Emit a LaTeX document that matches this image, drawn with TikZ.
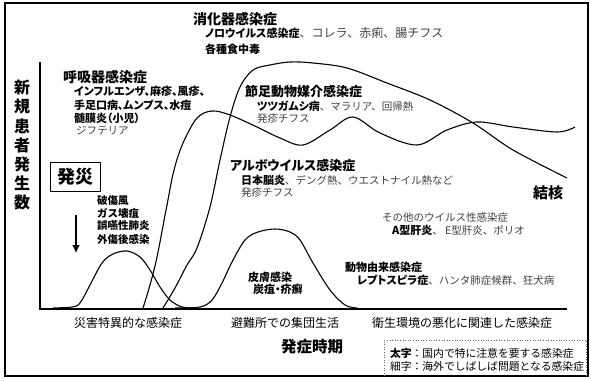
\documentclass[tikz,border=0pt]{standalone}
\usepackage{fontspec}
\usetikzlibrary{arrows.meta}
\setmainfont{Noto Sans CJK JP}
\newfontfamily\jpp{Noto Sans CJK JP}[RawFeature=+palt]
\newcommand\thinpart[1][10.5]{\rmfamily\mdseries\fontsize{#1}{#1}\selectfont\color{black!75}}
\begin{document}
\begin{tikzpicture}[x=1pt,y=-1pt,
  every node/.style={inner sep=0pt,outer sep=0pt},
  hd/.style={font=\jpp\bfseries\fontsize{14}{14}\selectfont,anchor=west},
  sb/.style={font=\jpp\bfseries\fontsize{11}{11}\selectfont,anchor=west},
  tn/.style={font=\fontsize{10.5}{10.5}\selectfont,anchor=west,text=black!75},
  ax/.style={font=\fontsize{12}{12}\selectfont},
  crv/.style={line width=1.1pt,smooth,tension=0.55}]
\useasboundingbox (0,0) rectangle (591,380);
\draw[line width=1.8pt] (5,3) rectangle (588,376);
% axes
\coordinate (ytop) at (40,62);
\coordinate (orig) at (40,309);
\coordinate (xend) at (567,309);
\draw[line width=1.1pt] (ytop) -- (orig) -- (xend);
% y label
\foreach \c [count=\i from 0] in {新,規,患,者,発,生,数}
  \node[font=\bfseries\fontsize{16}{16}\selectfont] (yl\i) at (22,88+19*\i) {\c};
% curves
\draw[crv] plot coordinates {(53,308) (72,307) (80,303) (90,285) (102,263) (113,254) (127,251) (140,257) (150,270) (160,287) (170,300) (182,307) (195,308)};
\draw[crv] plot coordinates {(143,308) (150,285) (157,257) (167,205) (174,170) (183,143) (197,118) (212,111) (230,115) (257,127) (280,138) (303,145) (330,130) (353,117) (380,133) (417,145) (447,130) (477,122) (513,127) (557,132) (575,127)};
\draw[crv] plot coordinates {(163,308) (175,288) (187,265) (197,248) (210,207) (220,160) (230,117) (240,87) (253,70) (270,65) (290,62) (313,63) (347,68) (387,83) (430,100) (473,123) (513,150) (567,178)};
\draw[crv] plot coordinates {(175,308) (200,307) (212,300) (222,283) (232,262) (245,240) (258,232) (275,229) (290,232) (300,240) (313,263) (330,290) (345,305) (357,308)};
% disaster box and arrow
\node[draw,line width=1pt,minimum width=50pt,minimum height=29pt,font=\bfseries\fontsize{18}{18}\selectfont] (hs) at (75,176.5) {発災};
\coordinate (a1) at (76,215);
\coordinate (a2) at (76,253);
\draw[line width=2pt,-{Latex[length=8pt,width=8pt]}] (a1) -- (a2);
% labels
\node[hd] (dig) at (193,19) {消化器感染症};
\node[sb] (dig1) at (205,33) {ノロウイルス感染症\thinpart[12]、コレラ、赤痢、腸チフス};
\node[sb] (dig2) at (205,49) {各種食中毒};
\node[hd] (res) at (63,77) {呼吸器感染症};
\node[sb] (res1) at (74,91) {インフルエンザ、麻疹、風疹、};
\node[sb] (res2) at (74,105) {手足口病、ムンプス、水痘};
\node[sb] (res3) at (74,118) {髄膜炎（小児）};
\node[tn] (res4) at (76,131) {ジフテリア};
\node[hd,font=\jpp\bfseries\fontsize{13}{13}\selectfont] (art) at (245,92) {節足動物媒介感染症};
\node[sb] (art1) at (257,106) {ツツガムシ病\thinpart、マラリア、回帰熱};
\node[tn] (art2) at (257,119) {発疹チフス};
\node[hd,font=\jpp\bfseries\fontsize{13}{13}\selectfont] (arb) at (230,165) {アルボウイルス感染症};
\node[sb] (arb1) at (241,180) {日本脳炎\thinpart、デング熱、ウエストナイル熱など};
\node[tn] (arb2) at (241,193) {発疹チフス};
\node[hd,font=\bfseries\fontsize{15}{15}\selectfont] (tb) at (533,193) {結核};
\node[tn] (oth) at (382,217) {その他のウイルス性感染症};
\node[sb] (oth1) at (392,230) {A型肝炎\thinpart、 E型肝炎、ポリオ};
\node[sb,font=\bfseries\fontsize{10.5}{10.5}\selectfont] (d1) at (97,201) {破傷風};
\node[sb,font=\bfseries\fontsize{10.5}{10.5}\selectfont] (d2) at (97,213) {ガス壊疽};
\node[sb,font=\bfseries\fontsize{10.5}{10.5}\selectfont] (d3) at (97,226) {誤嚥性肺炎};
\node[sb,font=\bfseries\fontsize{10.5}{10.5}\selectfont] (d4) at (97,239) {外傷後感染};
\node[sb] (sk1) at (248,277) {皮膚感染};
\node[sb] (sk2) at (253,289) {炭疽・疥癬};
\node[sb] (zoo) at (345,267) {動物由来感染症};
\node[sb] (zoo1) at (357,280) {レプトスピラ症\thinpart、ハンタ肺症候群、狂犬病};
\node[ax] (x1) at (128,323) {災害特異的な感染症};
\node[ax] (x2) at (285,323) {避難所での集団生活};
\node[ax] (x3) at (462,323) {衛生環境の悪化に関連した感染症};
\node[font=\bfseries\fontsize{15.5}{15.5}\selectfont] (xt) at (312,347) {発症時期};
% legend
\coordinate (l1) at (384,376);
\coordinate (l2) at (384,340);
\coordinate (l3) at (586,340);
\coordinate (l4) at (586,376);
\draw[dotted,black!60,line width=0.6pt] (l1) -- (l2) -- (l3) -- (l4);
\node[anchor=west,font=\fontsize{10.8}{10.8}\selectfont] (lg1) at (390,353) {\textbf{太字}：国内で特に注意を要する感染症};
\node[anchor=west,font=\fontsize{10.8}{10.8}\selectfont] (lg2) at (390,366) {細字：海外でしばしば問題となる感染症};
\end{tikzpicture}
\end{document}
